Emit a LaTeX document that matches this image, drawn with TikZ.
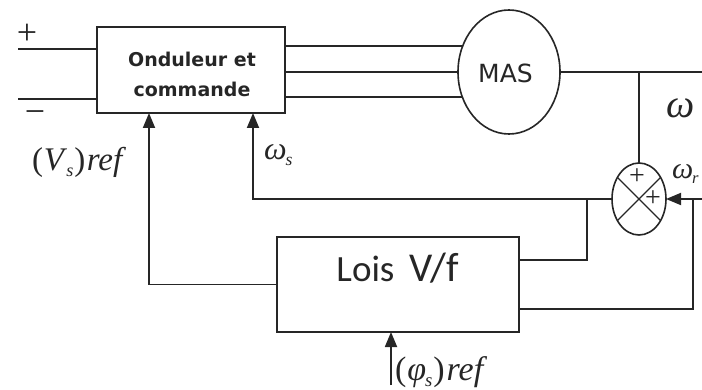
\documentclass[tikz,border=0pt]{standalone}
\usepackage{fontspec}
\usetikzlibrary{arrows.meta,calc,shapes.geometric}
\newfontfamily\dejavu{DejaVu Sans}
\newfontfamily\carlito{Carlito}
\newfontfamily\tms{Liberation Serif}
\newcommand\fsz[1]{\fontsize{#1}{#1}\selectfont}
\newcommand\lsub[1]{\raisebox{-0.35ex}{\fontsize{0.55em}{0.55em}\selectfont\itshape #1}}
\begin{document}
\begin{tikzpicture}[x=1pt,y=-1pt,
  wire/.style={line width=1.8pt,draw=black!85},
  arr/.style={wire,-{Triangle[length=15pt,width=12pt]}},
  blockbox/.style={draw=black!85,line width=1.8pt,rectangle,inner sep=0pt,outer sep=0pt},
  round/.style={draw=black!85,line width=1.6pt,ellipse,inner sep=0pt,outer sep=0pt},
  lab/.style={inner sep=0pt,outer sep=0pt,text=black!85}]
\useasboundingbox (0,0) rectangle (702,390);
% blocks
\node[blockbox,minimum width=188pt,minimum height=86pt] (ond) at (191,70) {};
\node[lab,anchor=base,align=center,font=\dejavu\bfseries\fontsize{19}{30}\selectfont] (ondtext) at (192,97) {Onduleur et\\commande};
\node[round,minimum width=102pt,minimum height=124pt] (mas) at (509,72) {};
\node[lab,anchor=base,font=\dejavu\fsz{25}] (mastext) at (505.5,83) {MAS};
\node[blockbox,minimum width=242pt,minimum height=95pt] (lois) at (398,284.5) {};
\node[lab,anchor=base,font=\carlito\fsz{37}] (loistext) at (397.5,282) {Lois\, {\fsz{41}V/f}};
\node[round,minimum width=54pt,minimum height=72pt] (sum) at (639,199) {};
\draw[line width=1.1pt,black!85] (sum.135) -- (sum.-45);
\draw[line width=1.1pt,black!85] (sum.45) -- (sum.-135);
\node[lab,font=\tms\fsz{28}] (p1) at (637,177) {+};
\node[lab,font=\tms\fsz{28}] (p2) at (653,199) {+};
% inputs
\coordinate (pin) at (18,49);
\coordinate (min) at (18,99);
\draw[wire] (pin) -- (pin -| ond.west);
\draw[wire] (min) -- (min -| ond.west);
\node[lab,font=\tms\fsz{36}] (plus) at (27,34) {+};
\node[lab,font=\tms\fsz{36}] (minus) at (35,117) {−};
% three phases
\draw[wire] (mas.151.8 -| ond.east) -- (mas.151.8);
\draw[wire] (mas.west -| ond.east) -- (mas.west);
\draw[wire] (mas.208.2 -| ond.east) -- (mas.208.2);
% speed output
\coordinate (wout) at (702,72);
\draw[wire] (mas.east) -- (wout);
\draw[wire] (sum.north |- mas.east) -- (sum.north);
% summer output to inverter
\coordinate (ws) at ($(ond.south)+(62,0)$);
\coordinate (vs) at ($(ond.south)+(-42,0)$);
\draw[arr] (sum.west) -| (ws);
\draw[arr] (lois.west) -| (vs);
% Lois outputs
\coordinate (lu) at ($(lois.east)+(0,-24.5)$);
\coordinate (ll) at ($(lois.east)+(0,24.5)$);
\draw[wire] (lu) -| ($(sum.west)+(-25,0)$);
\draw[wire] (ll) -| ($(sum.east)+(27,0)$);
\coordinate (wr) at (702,199);
\draw[arr] (wr) -- (sum.east);
% flux reference
\coordinate (phi) at (391,385);
\draw[arr] (phi) -- (phi |- lois.south);
% labels
\node[lab,anchor=base west,font=\tms\fsz{33}] (vsref) at (32,171) {(\kern1pt\textit{V}\kern-1pt\lsub{s}\kern1pt)\kern1.5pt\textit{ref}};
\node[lab,anchor=base west,font=\tms\fsz{32}] (oms) at (264,160) {\textit{ω}\kern-1pt\lsub{s}};
\node[lab,anchor=base west,font=\tms\fsz{40}] (om) at (666,118) {\textit{ω}};
\node[lab,anchor=base west,font=\tms\fsz{30}] (omr) at (672,179) {\textit{ω}\kern-1pt\lsub{r}};
\node[lab,anchor=base west,font=\tms\fsz{34}] (phiref) at (395,381) {(\kern1pt\textit{φ}\kern-1pt\lsub{s}\kern1pt)\kern2pt\textit{ref}};
\end{tikzpicture}
\end{document}
